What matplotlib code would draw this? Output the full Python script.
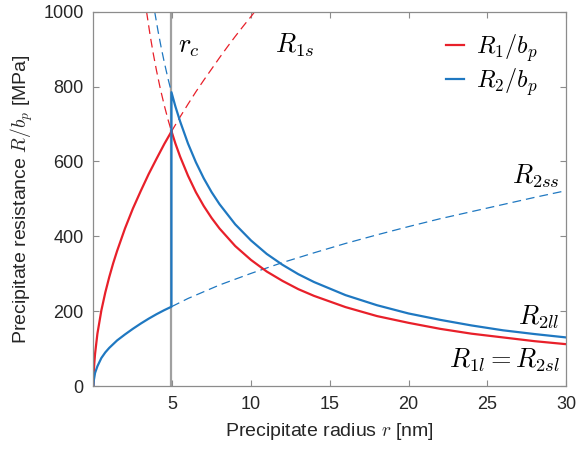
import numpy as np
import matplotlib.pyplot as plt

plt.rcParams['font.family'] = ['Liberation Sans', 'DejaVu Sans']
plt.rcParams['mathtext.fontset'] = 'cm'

# critical radius (nm)
r_c = 4.95

# R1s: shearing branch of R1 (solid below r_c, dashed above)
r_1s = [0, 0.01, 0.02, 0.05, 0.1, 0.25, 0.5, 0.75, 1, 1.25, 1.5, 2, 2.5, 3, 3.5, 4, 4.5, 4.95]
R_1s = [0, 25, 37, 60, 86, 140, 202, 250, 291, 328, 361, 421, 474, 521, 566, 607, 647, 680]
r_1s_d = [4.95, 5.5, 6, 6.5, 7, 7.5, 8, 8.5, 9, 9.5, 10, 10.2]
R_1s_d = [680, 719, 753, 786, 817, 847, 877, 906, 934, 961, 987, 998]

# R1l = R2sl: looping branch (dashed below r_c, solid above)
r_1l_d = [3.37, 3.6, 3.8, 4, 4.25, 4.5, 4.75, 4.95]
R_1l_d = [1000, 936, 887, 843, 793, 749, 709, 681]
r_1l = [4.95, 5.2, 5.5, 6, 6.5, 7, 7.5, 8, 9, 10, 11, 12, 13, 14, 16, 18, 20,
        22, 24, 26, 28, 30]
R_1l = [681, 648, 613, 562, 518, 481, 449, 421, 374, 337, 306, 281, 259, 241, 211,
        187, 169, 153, 140, 130, 120, 112]

# R2ll
r_2ll_d = [3.886, 4.1, 4.3, 4.5, 4.75, 4.95]
R_2ll_d = [1000, 948, 904, 864, 818, 785]
r_2ll = [4.95, 5.2, 5.5, 6, 6.5, 7, 7.5, 8, 9, 10, 11, 12, 13, 14, 16, 18, 20,
         22, 24, 26, 28, 30]
R_2ll = [785, 747, 707, 648, 598, 555, 518, 486, 432, 389, 353, 324, 299, 278, 243,
         216, 194, 177, 162, 149, 139, 130]

# R2ss
r_2ss = [0, 0.02, 0.1, 0.25, 0.5, 0.75, 1, 1.5, 2, 2.5, 3, 3.5, 4, 4.5, 4.95]
R_2ss = [0, 15, 35, 53, 75, 90, 102, 122, 138, 153, 167, 180, 192, 203, 212]
r_2ss_d = [4.95, 6, 8, 10, 12, 14, 16, 18, 20, 22, 24, 26, 28, 30]
R_2ss_d = [212, 234, 270, 301, 330, 356, 381, 404, 426, 447, 466, 485, 504, 522]

red = '#e8202a'
blue = '#1f78c1'
grey = '#8c8c8c'
dash = (7, 4)

fig = plt.figure(figsize=(5.77, 4.5), dpi=100)
ax = fig.add_axes([0.162, 0.142, 0.819, 0.832])

ax.plot([r_c, r_c], [0, 1000], color='#a0a0a0', lw=1.6, zorder=1)

ax.plot(r_1s_d, R_1s_d, color=red, lw=0.9, dashes=dash)
ax.plot(r_1l_d, R_1l_d, color=red, lw=0.9, dashes=dash)
ax.plot(r_2ll_d, R_2ll_d, color=blue, lw=0.9, dashes=dash)
ax.plot(r_2ss_d, R_2ss_d, color=blue, lw=0.9, dashes=dash)

ax.plot(r_1s, R_1s, color=red, lw=1.6, label=r'$R_1/b_p$')
ax.plot(r_1l, R_1l, color=red, lw=1.6)
ax.plot(r_2ss + [r_c] + r_2ll, R_2ss + [785] + R_2ll, color=blue, lw=1.6,
        label=r'$R_2/b_p$')

ax.set_xlim(0, 30)
ax.set_ylim(0, 1000)
ax.set_xticks([5, 10, 15, 20, 25, 30])
ax.set_yticks([0, 200, 400, 600, 800, 1000])

for s in ax.spines.values():
    s.set_color(grey)
    s.set_linewidth(0.9)
ax.tick_params(direction='in', top=True, right=True, length=4, width=0.8,
               color=grey, labelcolor='#262626', labelsize=13, pad=7)

ax.set_xlabel(r'Precipitate radius $r$ [nm]', fontsize=14, color='#262626', labelpad=6)
ax.set_ylabel(r'Precipitate resistance $R/b_p$ [MPa]', fontsize=14, color='#262626', labelpad=6)

ms = 19
ax.text(5.35, 890, r'$r_c$', fontsize=ms)
ax.text(11.5, 890, r'$R_{1s}$', fontsize=ms)
ax.text(29.6, 540, r'$R_{2ss}$', fontsize=ms, ha='right')
ax.text(29.6, 165, r'$R_{2ll}$', fontsize=ms, ha='right')
ax.text(29.6, 50, r'$R_{1l}=R_{2sl}$', fontsize=ms, ha='right')

ax.legend(loc='upper right', frameon=False, fontsize=17.5, handlelength=0.75,
          handletextpad=0.5, labelspacing=0.12, borderaxespad=0.0,
          bbox_to_anchor=(0.96, 0.972))

fig.savefig('out.png', dpi=100)
